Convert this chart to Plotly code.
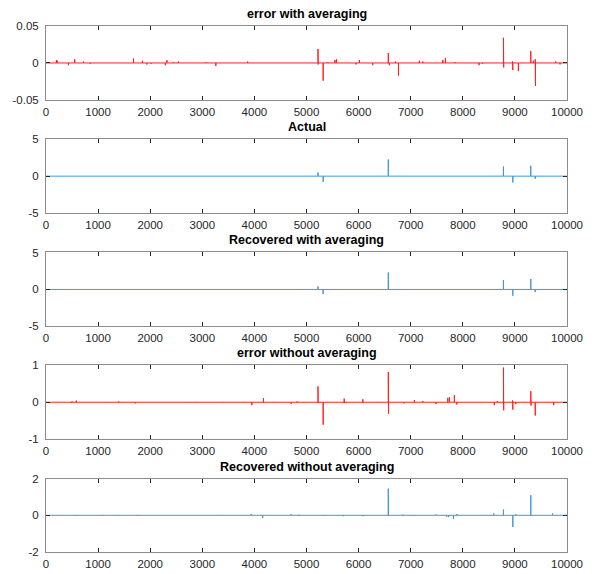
import plotly.graph_objects as go

# ---------------- data (sample index, value) ----------------
err_avg_pos = [200, 215, 430, 550, 720, 850, 1680, 1850, 1935, 2020, 2290, 2320, 2450, 2540,
               3070, 3260, 3870, 5220, 5225, 5320, 5410, 5545, 5575, 5950, 6015, 6270, 6570,
               6590, 6707, 6765, 7167, 7232, 7616, 7666, 7852, 8312, 8376, 8780, 8785, 8955,
               8960, 9067, 9305, 9354, 9390, 9395, 9784, 9866]
err_avg_val = [0.004, 0.003, -0.003, 0.005, 0.002, -0.001, 0.006, 0.003, -0.002, -0.001, -0.003,
               0.004, 0.001, 0.002, 0.001, -0.004, 0.002, 0.019, -0.002, -0.024, 0.001, 0.004,
               0.005, -0.002, 0.004, -0.003, 0.0135, -0.003, 0.002, -0.017, 0.003, 0.002, 0.004,
               0.0065, 0.001, -0.003, -0.001, 0.034, -0.006, 0.002, -0.0095, -0.011, 0.016,
               0.003, 0.005, -0.031, 0.002, -0.002]

actual_pos = [5220, 5320, 6570, 8780, 8960, 9305, 9390]
actual_val = [0.5, -0.77, 2.25, 1.3, -0.85, 1.4, -0.36]

rec_avg_pos = [5220, 5320, 6570, 8780, 8960, 9305, 9390]
rec_avg_val = [0.42, -0.63, 2.3, 1.26, -0.85, 1.4, -0.36]

err_noavg_pos = [370, 498, 581, 1138, 1393, 1458, 1713, 2768, 2883, 3407, 3804, 3951, 4174, 4366,
                 4706, 4815, 5220, 5225, 5320, 5723, 5728, 5760, 6081, 6362, 6570, 6575, 6873,
                 7071, 7232, 7487, 7712, 7743, 7838, 7884, 8605, 8663, 8780, 8785, 8955, 8960,
                 9016, 9305, 9310, 9390, 9641, 9745]
err_noavg_val = [-0.01, 0.02, 0.045, -0.01, 0.02, -0.01, -0.03, -0.01, 0.01, 0.01, 0.01, -0.08,
                 0.11, 0.01, -0.04, 0.02, 0.43, -0.02, -0.61, 0.1, -0.02, -0.02, 0.08, 0.01, 0.82,
                 -0.31, -0.03, 0.06, 0.03, -0.05, 0.12, 0.13, 0.19, -0.06, -0.08, 0.03, 0.94,
                 -0.22, 0.05, -0.2, -0.05, 0.3, -0.09, -0.36, 0.01, -0.08]

rec_noavg_pos = [370, 568, 1100, 1400, 1750, 3335, 3940, 4159, 4705, 4850, 5339, 5703, 6081, 6570,
                 6846, 7072, 7487, 7691, 7728, 7822, 7888, 8594, 8780, 8960, 9017, 9305, 9723]
rec_noavg_val = [0.01, -0.04, 0.02, -0.02, 0.02, -0.02, 0.07, -0.15, 0.05, 0.03, -0.04, -0.05,
                 -0.05, 1.45, 0.04, -0.04, 0.04, -0.08, -0.1, -0.2, 0.07, 0.1, 0.31, -0.64, 0.05,
                 1.09, 0.1]

titles = ["error with averaging", "Actual", "Recovered with averaging",
          "error without averaging", "Recovered without averaging"]
y_limits = [[-0.05, 0.05], [-5, 5], [-5, 5], [-1, 1], [-2, 2]]
y_ticks = [[-0.05, 0, 0.05], [-5, 0, 5], [-5, 0, 5], [-1, 0, 1], [-2, 0, 2]]
y_ticklabels = [["-0.05", "0", "0.05"], ["-5", "0", "5"], ["-5", "0", "5"],
                ["-1", "0", "1"], ["-2", "0", "2"]]
x_ticks = [0, 1000, 2000, 3000, 4000, 5000, 6000, 7000, 8000, 9000, 10000]
x_ticklabels = ["0", "1000", "2000", "3000", "4000", "5000", "6000", "7000", "8000", "9000", "10000"]
N = 10000

series = [(err_avg_pos, err_avg_val), (actual_pos, actual_val), (rec_avg_pos, rec_avg_val),
          (err_noavg_pos, err_noavg_val), (rec_noavg_pos, rec_noavg_val)]

RED = "#ff2020"
BLUE = "#3f97d8"
colors = [RED, BLUE, BLUE, RED, BLUE]

# ---------------- layout geometry (pixels) ----------------
W, H = 595, 574
x_left, x_right = 45.7, 566.7
panel_px = [(26, 100), (139.3, 213.3), (252.7, 326.7), (365.7, 439.5), (479, 552.5)]
m_l, m_r, m_t, m_b = x_left, W - x_right, panel_px[0][0], H - panel_px[-1][1]
plot_h = H - m_t - m_b


def spike_path(pos, val):
    xs, ys = [0], [0]
    for p, v in sorted(zip(pos, val)):
        xs += [p, p, p]
        ys += [0, v, 0]
    xs.append(N)
    ys.append(0)
    return xs, ys


fig = go.Figure()
layout = dict(width=W, height=H, margin=dict(l=m_l, r=m_r, t=m_t, b=m_b, autoexpand=False),
              paper_bgcolor="white", plot_bgcolor="white", showlegend=False,
              font=dict(family="Liberation Sans, Arial, sans-serif", size=11.5, color="#262626"))
annotations = []
for i, ((pos, val), col) in enumerate(zip(series, colors)):
    k = "" if i == 0 else str(i + 1)
    xs, ys = spike_path(pos, val)
    fig.add_trace(go.Scatter(x=xs, y=ys, mode="lines", line=dict(color=col, width=1),
                             xaxis="x" + k, yaxis="y" + k, hoverinfo="skip"))
    top, bot = panel_px[i]
    ydom = [max(0, (H - m_b - bot) / plot_h), min(1, (H - m_b - top) / plot_h)]
    layout["xaxis" + k] = dict(domain=[0, 1], range=[0, N], anchor="y" + k, automargin=False,
                               tickvals=x_ticks, ticktext=x_ticklabels,
                               ticks="inside", ticklen=4, tickcolor="#262626",
                               showline=True, linecolor="#8c8c8c", linewidth=1, mirror="ticks",
                               showgrid=False, zeroline=False, ticklabelstandoff=1,
                               tickfont=dict(size=11.5, color="#262626"))
    layout["yaxis" + k] = dict(domain=ydom, range=y_limits[i], anchor="x" + k, automargin=False,
                               tickvals=y_ticks[i], ticktext=y_ticklabels[i],
                               ticks="inside", ticklen=4, tickcolor="#262626",
                               showline=True, linecolor="#8c8c8c", linewidth=1, mirror="ticks",
                               showgrid=False, zeroline=False, ticklabelstandoff=4,
                               tickfont=dict(size=11.5, color="#262626"))
    annotations.append(dict(text="<b>" + titles[i] + "</b>", xref="paper", yref="paper",
                            x=0.5, y=ydom[1], xanchor="center",
                            yanchor="bottom", yshift=3, showarrow=False,
                            font=dict(size=12.5, color="black")))
layout["annotations"] = annotations
fig.update_layout(**layout)
fig.write_html("out.html", config={"displayModeBar": False, "staticPlot": True},
               post_script="document.body.style.margin='0';document.body.style.overflow='hidden';")
